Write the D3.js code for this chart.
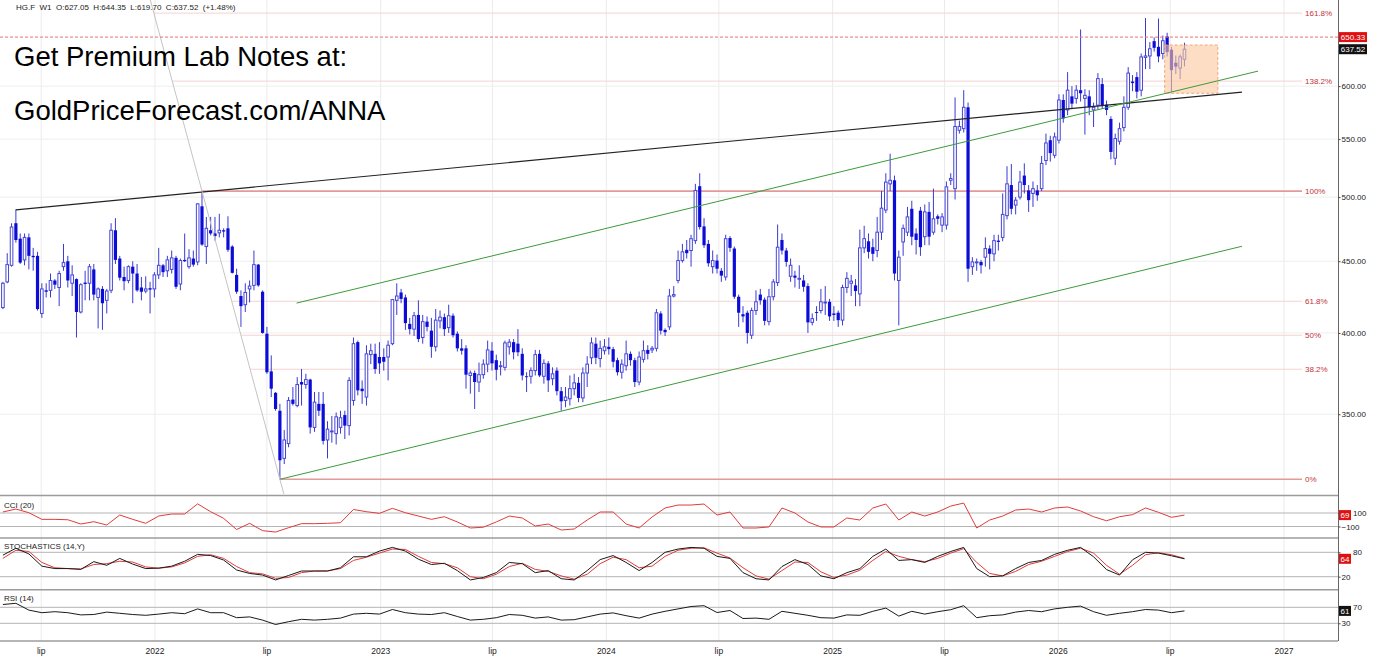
<!DOCTYPE html>
<html>
<head>
<meta charset="utf-8">
<title>HG.F W1</title>
<script src="https://cdn.jsdelivr.net/npm/d3@7/dist/d3.min.js"></script>
<style>
  html, body { margin:0; padding:0; background:#fff; }
  svg { display:block; font-family: "Liberation Sans", Arial, Helvetica, sans-serif; }
</style>
</head>
<body>
<svg id="chart" width="1387" height="658"></svg>
<script>
// ---------------- DATA ----------------
const symbolInfo = "HG.F  W1  O:627.05  H:644.35  L:619.70  C:637.52  (+1.48%)";
const promoLines = ["Get Premium Lab Notes at:", "GoldPriceForecast.com/ANNA"];
const firstWeek = "2021-04-30";

const opens = [
417,435,447,479,467,451,468,454,454,413,
429,429,436,431,446,450,434,437,414,434.5,
434,444,424,430,422,429,473.5,452,438.5,436,
446,441,431,428.5,430.5,430,440,447,443,444,
452.5,433.5,451,446,452,449.5,492.5,461,473.5,471,
471.5,473.5,475,461,440,425,419,430,432.5,447.5,
428,399.5,375.5,362.5,352,325.5,333.5,358.5,355,369,
367.5,370.5,342.5,356,356,335.5,340,339,342.5,349.5,
343.5,358,394,365,360,386,386.5,384.5,384.5,384.5,
393,422,427.5,424,406,402.5,412,397,407.5,401.5,
391,408,410.5,403.5,411.5,399.5,390,390,373,374.5,
369,373.5,380,388.5,382.5,378.5,378,391,394,393,
386.5,372.5,372.5,376,386.5,372.5,380.5,371,376,363.5,
358,359,365,368.5,359.5,374.5,384,393,383.5,388.5,
391,389.5,382.5,375,379,386.5,382.5,369,383,389,
389,390,413,402,404,425,436,450.5,458.5,458,
465.5,509,476.5,463,446,450.5,443,438.5,467.5,459.5,
424.5,412.5,413.5,398.5,415,426,422.5,407.5,424.5,434.5,
466,458,439,439.5,437,436,432,407,414,415,
420.5,421,413,413.5,408.5,431,434,432.5,426.5,460,
465,460.5,458,472,489.5,511,514,436,464.5,472,
490.5,471,489,468.5,488,472,484.5,477.5,477.5,514,
507,558,559.5,579.5,446,449,449.5,453,459.5,455.5,
465.5,468,485,510,493.5,500,518,505.5,503,505.5,
507,531,549,535.5,549,586.5,577,590,588,596,
588,590,577,581.5,602,582,568.5,533,548,560.5,
579.5,604.5,609,596,629,630.5,646,640,633,651,
637,623.5,618,627.05];

const highs = [
435,456,479,490,471,471,471,460,457,434,
434,441,437,443,463,454,447,437.5,434,443,
448,448,431,432,430,479,483,454,446,447,
450,448,438.5,439,435,442,460,448,454,458,
454,452,471,459,458,495,504.9,484,484,484,
486.5,475,484.5,462,444.5,429,434,436,458,448,
429,404,385.5,363,356,341,360,366,372,377,
374,371,363,363,363,346,349,351,352,352,
372,397,395,370,392,393,393,394,390,395,
423,434,430,426,410,414,422,412,411,410,
416,415,413,419,413,401,396,392,376,376,
381,383,395,394,386,382,395,396,396,402.5,
390,375,378,389,389,383,382,378,378,366,
366,373,374,372,378,385,397,397,395,396,
397,391,384,383,395,388,384,388,395,392,
391.5,416,414.5,403,430,432,458,463,466,470,
511,520,483,466,458,455,445,470,469,461,
426,418,415,417,429,430,424,430,437,478,
471,460,452,443,447,440,434,413,418,430,
432,423,418,415,433,442,440,437,474,477,
471,467,484,505,520,537,518,458,478,492,
497,475,492,494,496,507,486,487,513,520,
589,567,596,584,453,452,451,468,462,470,
470,503,526,528,500,522,528.5,510,513,510,
535,555,553,556,592,592,614,600,601,658.5,
597,596,584,613,608,586,571,555,565,590,
619,611,614,633,671,645,650,670.5,652,655,
640,631,632,644.35];

const lows = [
416,434,446,464,448,447,444,443,415,410,
424,424,430,418,443,431,425,397,413,422,
422,422,403,402,413,427,448,436,429,434,
420,428,422,427,413,424,437,438.5,438.5,441,
430,429,449.5,444.5,446,447,461.5,448,469.5,465.5,
468,468,457,441,426.5,404,414,420.5,429,431.5,
399.5,374,360,352,314.5,322.5,331.5,355,354,355,
365,339,340,349,333,325.5,334,333,339,336,
338,355,361,356,355,380,374,374,376,370,
392,412,420,402,399,398,394,393,401,384,
388,403,398,400,397,388,386,365,362,353,
363,371,375,376,370,373,376,386,383,385,
370,363,368,373,372,368,363,367,361,352,
354,355,361,357,357,366,380,380,378,386,
386,378,373,371,376,379,366,367,381,383,
387,388,399,398,402,424,434,449,452,446,
463,474,460,446,441,441,435,436,457,423,
404,407,393,396,412,419,405,405,422,432,
455,446,435,431,430,428,400,405,408,413,
412,408,408,404,405,427,425,418,418,456,
452,450,453,466,487,505,436,405,454,469,
462,455,454,462,462,470,478,472,474,510,
498,555,556,435,440,443,441,446,444,450,
458,465,482,486,486,498,503,488,492,497,
505,527,530,533,546,565,572,578,583,585,
554,572,561,577,578,572,532,527,545,557,
577,595,588,590,617,617,635,624,627,630,
594.5,612,607,619.7];

const closes = [
434,447.5,476,466,449,468,454,453,416,430,
428,436,433,441,449,436,440,414,433,433.5,
446,426,430,420,428.5,473.5,451,438,435.5,446,
441,429,428,430,429.5,440,447,442,451,452.5,
431.5,450.5,450,452.5,447.5,494.5,462.5,475,471,469,
473.5,472.5,458.5,441.5,428,418,427.5,432,447.5,432.5,
400,375,365,353,324.5,335.5,358,356,367.5,367.5,
370.5,342.5,357,352,335,341.5,340.5,348.5,348,343.5,
370,393,364,363.5,386.5,388.5,377,380.5,381.5,392,
422.5,425,423,406.5,402.5,411.5,396,407.5,404,391,
408.5,410.5,402.5,411.5,398.5,390,388.5,373.5,374.5,369,
373.5,380,389,380.5,376.5,379,393.5,394,387.5,387.5,
373,372,376,386,373,380.5,370,374,363.5,357.5,
360,365,368.5,359.5,374.5,380,393.5,384,390,391,
389.5,381.5,375,380,386.5,382.5,369,384.5,388.5,386.5,
390,413.5,401.5,400.5,425,426,450.5,457,456,467,
505.5,476,462,448.5,450.5,444.5,439.5,467,460,424.5,
413.5,411,400,415,421,422,408,424.5,435,460.5,
458,449.5,447,438,437.5,431.5,407,409.5,413.5,421,
420.8,411,412,408.5,431,437.5,435.5,428.5,460,467,
457,455.5,472,491,512.5,514,441,453,475,484,
468.5,466,460.5,488,468.5,482.5,482.5,484,508.5,515.5,
561.5,561.5,579.5,444.5,449.5,449.5,447,459.5,455.5,465.5,
464.5,486,511,490.5,497.5,512.5,510,497.5,507,501.5,
528.5,546.5,537.5,552,586.5,569,596,583,596,593,
591,579.5,579.5,607.5,581.5,577,538.5,550.5,559.5,579.5,
613,603,594.5,629.5,630.5,638,639,630,646.5,634.5,
616,619.5,629.5,637.52];

// indicator readings, one value every `indicatorStep` weeks
const indicatorStep = 3;
const cci20 = [
115,159,104,6,6,0,-63,-29,-78,70,6,-53,55,85,85,235,119,21,-145,-53,
-162,-182,-118,-58,-58,-53,-44,152,119,95,169,104,55,6,45,
-33,-122,-111,-33,55,26,-93,-63,-152,-137,-4,115,115,-63,-122,41,174,218,218,233,
70,115,-122,-122,-107,174,100,-33,-107,-107,26,-4,174,233,-4,115,55,115,203,247,
-122,-4,55,144,159,115,174,189,130,
45,-15,45,75,175,110,36,69];
const stochK = [
73,90,76,46,40,40,38,57,48,65,51,40,41,46,58,75,72,61,36.5,28,
24,12,23,34,34,34,42,69,69,83,92,83,63,50,53,
35,12,18,30,55,52,30,35,15,12,35,62,72,55,35,55,80,88,92,90,
70,65,30,15,12,45,62,50,22,15,30,40,70,88,60,62,55,70,82,92,
40,20,22,40,55,60,75,85,92,
69,37.5,24,61.5,80,78,71.5,64];
const stochD = [
65,85,82,55,42,40,39,50,52,58,56,44,41,44,54,70,74,65,45,30,
27,16,18,30,34,34,40,60,68,78,88,87,70,55,52,
42,20,15,26,45,53,38,33,22,14,26,52,68,62,42,46,70,85,90,91,
78,66,42,22,14,35,56,55,32,18,24,36,60,82,70,62,57,65,78,89,
55,28,22,33,50,58,70,82,90,
78,48,26,48,74,79,74,65];
const rsi14 = [
77,80,63,56.5,59,56.5,51,52,58,55,52,50,53,56.5,54,66,56.5,56.5,44,46,
38,27,34,40,38,40,43,53,55,53,64.5,56.5,53,52,56.5,
47,38,40,44,52,50,43,46,38,39,46,53,56,49,43,53,60,66,72,74,
57,62,42,43,40,60,55,50,44,43,51,50,60,68,48,60,53,59,64,74,
44,49,51,58,62,59,66,70,73,
59,50,55,59,64.5,63,56.5,61];

const priceTicks = [350,400,450,500,550,600];
const xTickDates = ["2021-07-01","2022-01-01","2022-07-01","2023-01-01","2023-07-01","2024-01-01",
                    "2024-07-01","2025-01-01","2025-07-01","2026-01-01","2026-07-01","2027-01-01"];
const xTickLabels = ["lip","2022","lip","2023","lip","2024","lip","2025","lip","2026","lip","2027"];

const fibLevels = [0, 0.382, 0.5, 0.618, 1, 1.382, 1.618];
const fibLabels = ["0%","38.2%","50%","61.8%","100%","138.2%","161.8%"];
const fibHighIndex = 46;   // 2022 swing high
const fibLowIndex = 64;    // 2022 swing low

const blackTrend = [["2021-05-21", 489.6], ["2026-10-25", 594.1]];
const greenUpper = [["2022-08-18", 420.1], ["2026-11-20", 615.0]];
const greenLower = [["2022-07-22", 314.5], ["2026-10-25", 461.2]];
const targetZone = [["2026-06-22", 641.9], ["2026-09-16", 593.0]];
const alertPrice = 650.33;
const lastPrice = 637.52;

const cciLevels = [100, -100];
const stochLevels = [80, 20];
const rsiLevels = [70, 30];

// ---------------- CHART ----------------
const svg = d3.select("#chart");
const parse = d3.timeParse("%Y-%m-%d");
const start = parse(firstWeek);
const dates = closes.map((_, i) => d3.timeWeek.offset(start, i));

const AX = 1338;
const P = { main:[0,494], cci:[497,537], sto:[539,589], rsi:[591,640] };

const x = d3.scaleTime().domain([parse("2022-01-01"), parse("2027-01-01")]).range([155, 1284]);
const y = d3.scaleLog().domain([307, 691.2]).range([494, 0]);
const yCci = d3.scaleLinear().domain([-100, 100]).range([526.5, 513]);
const ySto = d3.scaleLinear().domain([20, 80]).range([576.7, 552.3]);
const yRsi = d3.scaleLinear().domain([30, 70]).range([623.3, 607.3]);

const defs = svg.append("defs");
Object.entries(P).forEach(([k, [t, b]]) => {
  defs.append("clipPath").attr("id", "clip-" + k)
    .append("rect").attr("x", 0).attr("y", t).attr("width", AX).attr("height", b - t);
});

// vertical grid
svg.append("g").selectAll("line").data(xTickDates).join("line")
  .attr("x1", d => x(parse(d))).attr("x2", d => x(parse(d)))
  .attr("y1", 0).attr("y2", 641)
  .attr("stroke", "#ebebeb").attr("stroke-width", 1);

// horizontal grid (main)
svg.append("g").selectAll("line").data(priceTicks).join("line")
  .attr("x1", 0).attr("x2", AX)
  .attr("y1", d => y(d)).attr("y2", d => y(d))
  .attr("stroke", "#eeeeee").attr("stroke-width", 1);

// fibonacci
const fH = highs[fibHighIndex], fL = lows[fibLowIndex];
const xh = x(dates[fibHighIndex]), yh = y(fH), xl = x(dates[fibLowIndex]), yl = y(fL);
const fibData = fibLevels.map((f, i) => {
  const price = Math.exp(Math.log(fL) + f * (Math.log(fH) - Math.log(fL)));
  const py = y(price);
  const px = xh + (py - yh) * (xl - xh) / (yl - yh);
  return { f, label: fibLabels[i], py, px };
});
const fibG = svg.append("g");
fibG.selectAll("line").data(fibData).join("line")
  .attr("x1", d => d.px).attr("x2", 1302)
  .attr("y1", d => d.py).attr("y2", d => d.py)
  .attr("stroke", d => (d.f === 0 || d.f === 1) ? "#e39a9a" : "#f3d2d2")
  .attr("stroke-width", d => (d.f === 0 || d.f === 1) ? 1.6 : 1);
fibG.selectAll("text").data(fibData).join("text")
  .attr("x", 1305).attr("y", d => d.py).attr("dy", "0.33em")
  .attr("font-size", 8).attr("fill", "#c4323a").text(d => d.label);

// candles
const idx = d3.range(closes.length);
const cg = svg.append("g").attr("clip-path", "url(#clip-main)");
cg.selectAll("line.wick").data(idx).join("line").attr("class", "wick")
  .attr("x1", i => x(dates[i])).attr("x2", i => x(dates[i]))
  .attr("y1", i => y(highs[i])).attr("y2", i => y(lows[i]))
  .attr("stroke", "#3b3bd2").attr("stroke-width", 1);
cg.selectAll("rect.body").data(idx).join("rect").attr("class", "body")
  .attr("x", i => x(dates[i]) - (closes[i] >= opens[i] ? 1.3 : 1.6))
  .attr("width", i => closes[i] >= opens[i] ? 2.6 : 3.2)
  .attr("y", i => y(Math.max(opens[i], closes[i])))
  .attr("height", i => Math.max(0.9, Math.abs(y(opens[i]) - y(closes[i]))))
  .attr("fill", i => closes[i] >= opens[i] ? "#ffffff" : "#0c0cd8")
  .attr("stroke", i => closes[i] >= opens[i] ? "#4646d6" : "none")
  .attr("stroke-width", 1);

// target zone box
svg.append("rect")
  .attr("x", x(parse(targetZone[0][0]))).attr("y", y(targetZone[0][1]))
  .attr("width", x(parse(targetZone[1][0])) - x(parse(targetZone[0][0])))
  .attr("height", y(targetZone[1][1]) - y(targetZone[0][1]))
  .attr("fill", "#fbc89c").attr("fill-opacity", 0.6)
  .attr("stroke", "#f0a878").attr("stroke-dasharray", "3,2").attr("stroke-width", 1);

// trend lines
const og = svg.append("g").attr("clip-path", "url(#clip-main)");
const tl = d3.line().x(d => x(parse(d[0]))).y(d => y(d[1]));
og.append("path").attr("d", tl(blackTrend)).attr("fill", "none").attr("stroke", "#222").attr("stroke-width", 1.1);
og.append("path").attr("d", tl(greenUpper)).attr("fill", "none").attr("stroke", "#3c9a3c").attr("stroke-width", 1);
og.append("path").attr("d", tl(greenLower)).attr("fill", "none").attr("stroke", "#3c9a3c").attr("stroke-width", 1);
// swing diagonal (high to low, extended)
const slope = (xl - xh) / (yl - yh);
og.append("line")
  .attr("x1", xh + (P.main[0] - yh) * slope).attr("y1", P.main[0])
  .attr("x2", xh + (P.main[1] - yh) * slope).attr("y2", P.main[1])
  .attr("stroke", "#c4c4c4").attr("stroke-width", 1);

// alert line
svg.append("line").attr("x1", 0).attr("x2", AX)
  .attr("y1", y(alertPrice)).attr("y2", y(alertPrice))
  .attr("stroke", "#e57373").attr("stroke-width", 1).attr("stroke-dasharray", "3,2");

// indicator panels
function levelLines(levels, sc) {
  svg.append("g").selectAll("line").data(levels).join("line")
    .attr("x1", 0).attr("x2", AX).attr("y1", d => sc(d)).attr("y2", d => sc(d))
    .attr("stroke", "#b5b5b5").attr("stroke-width", 1);
}
levelLines(cciLevels, yCci);
levelLines(stochLevels, ySto);
levelLines(rsiLevels, yRsi);

function series(vals, sc, color, clipId) {
  const ln = d3.line().x((d, k) => x(dates[Math.min(k * indicatorStep, dates.length - 1)])).y(d => sc(d));
  svg.append("path").attr("clip-path", "url(#" + clipId + ")")
    .attr("d", ln(vals)).attr("fill", "none").attr("stroke", color).attr("stroke-width", 1);
}
series(cci20, yCci, "#e23b3b", "clip-cci");
series(stochD, ySto, "#e23b3b", "clip-sto");
series(stochK, ySto, "#1a1a1a", "clip-sto");
series(rsi14, yRsi, "#1a1a1a", "clip-rsi");

// separators
svg.append("g").selectAll("line").data([495.5, 538, 589.8, 641]).join("line")
  .attr("x1", 0).attr("x2", AX).attr("y1", d => d).attr("y2", d => d)
  .attr("stroke", "#9c9c9c").attr("stroke-width", 1.6);
svg.append("line").attr("x1", AX + 0.5).attr("x2", AX + 0.5).attr("y1", 0).attr("y2", 641)
  .attr("stroke", "#666").attr("stroke-width", 1);

// value tags (positions computed first so tick labels can avoid them)
const TAGW = 12;
const tags = [
  { y: y(alertPrice), text: d3.format(".2f")(alertPrice), bg: "#e01010", w: 28 },
  { y: y(lastPrice), text: d3.format(".2f")(lastPrice), bg: "#111", w: 28 },
  { y: yCci(cci20[cci20.length - 1]), text: d3.format("d")(cci20[cci20.length - 1]), bg: "#e01010", w: TAGW },
  { y: ySto(stochK[stochK.length - 1]), text: d3.format("d")(stochK[stochK.length - 1]), bg: "#e01010", w: TAGW },
  { y: yRsi(rsi14[rsi14.length - 1]), text: d3.format("d")(rsi14[rsi14.length - 1]), bg: "#111", w: TAGW }
];

// right axes
function rightAxis(sc, ticks, fmt) {
  const g = svg.append("g").attr("transform", `translate(${AX + 0.5},0)`)
    .call(d3.axisRight(sc).tickValues(ticks).tickFormat(fmt).tickSize(2).tickPadding(1));
  g.select(".domain").remove();
  g.selectAll("line").attr("stroke", "#444");
  g.selectAll("text").attr("font-size", 8).attr("fill", "#222")
    .attr("font-family", '"Liberation Sans", Arial, sans-serif')
    .attr("x", d => {
      const hit = tags.find(t => Math.abs(t.y - sc(d)) < 9);
      return hit ? hit.w + 2.5 : 3;
    });
}
rightAxis(y, priceTicks, d3.format(".2f"));
rightAxis(yCci, cciLevels, d3.format("d"));
rightAxis(ySto, stochLevels, d3.format("d"));
rightAxis(yRsi, rsiLevels, d3.format("d"));

tags.forEach(t => {
  svg.append("rect").attr("x", AX + 1).attr("y", t.y - 5).attr("width", t.w).attr("height", 10).attr("fill", t.bg);
  svg.append("text").attr("x", AX + 1 + t.w / 2).attr("y", t.y).attr("dy", "0.34em")
    .attr("text-anchor", "middle").attr("font-size", 8).attr("fill", "#fff").text(t.text);
});

// x axis labels
svg.append("g").selectAll("text").data(xTickDates).join("text")
  .attr("x", d => x(parse(d))).attr("y", 654)
  .attr("text-anchor", "middle").attr("font-size", 8.5).attr("fill", "#222")
  .text((d, i) => xTickLabels[i]);

// panel titles
const titles = [["CCI (20)", 508], ["STOCHASTICS (14,Y)", 549], ["RSI (14)", 600.5]];
svg.append("g").selectAll("text").data(titles).join("text")
  .attr("x", 4).attr("y", d => d[1]).attr("font-size", 8).attr("fill", "#222").text(d => d[0]);

// header + promo
svg.append("text").attr("x", 16).attr("y", 10).attr("font-size", 8).attr("fill", "#222")
  .style("white-space", "pre").text(symbolInfo);
svg.append("g").selectAll("text").data(promoLines).join("text")
  .attr("x", 14).attr("y", (d, i) => 66 + i * 54)
  .attr("font-size", 27.5).attr("fill", "#000").text(d => d);
</script>
</body>
</html>
